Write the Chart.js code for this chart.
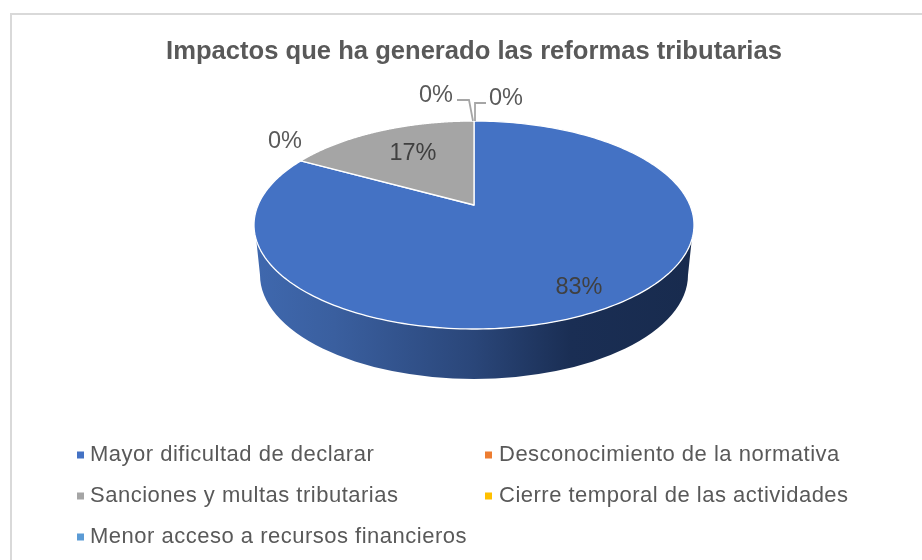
<!DOCTYPE html>
<html><head><meta charset="utf-8">
<style>html,body{margin:0;padding:0;background:#fff;overflow:hidden}canvas{display:block}</style>
<script src="https://cdn.jsdelivr.net/npm/chart.js@4"></script></head>
<body><canvas id="c" width="922" height="560"></canvas>
<script>
const titleText = 'Impactos que ha generado las reformas tributarias';
const categories = ['Mayor dificultad de declarar','Desconocimiento de la normativa','Sanciones y multas tributarias','Cierre temporal de las actividades','Menor acceso a recursos financieros'];
const seriesValues = [83,0,17,0,0];
const seriesColors = ['#4472C4','#ED7D31','#A5A5A5','#FFC000','#5B9BD5'];
const FONT = '"Liberation Sans", Arial, sans-serif';

// perspective of the pie's top face
const P = {cx:474, vy:205, A:100.15, C:215.9, a:-0.1923};
const project = ang => {
  const u = Math.cos(ang), v = Math.sin(ang), d = 1 + P.a*v;
  return [P.cx + P.C*u/d, P.vy + P.A*v/d];
};
const labelPos = [[579,288],[285,142],[413,154],[436,96],[506,99]];

const pie3d = {
  id:'pie3d',
  beforeDraw(chart){
    const c = chart.ctx;
    c.save();
    c.fillStyle='#fff'; c.fillRect(0,0,chart.width,chart.height);
    c.strokeStyle='#d9d9d9'; c.lineWidth=2;
    c.beginPath(); c.moveTo(11,560); c.lineTo(11,14); c.lineTo(922,14); c.stroke();
    c.restore();
  },
  beforeDatasetDraw(chart,args){
    const c = chart.ctx, meta = args.meta;
    c.save();
    // side wall
    const g = c.createLinearGradient(255,0,693,0);
    [[0,'#3F68AE'],[0.18,'#3A5F9F'],[0.5,'#2A4679'],[0.72,'#1A2E54'],[1,'#182B4E']].forEach(s=>g.addColorStop(s[0],s[1]));
    c.beginPath();
    const topCy=225, topRx=220, topRy=104, botCy=275, botRx=214, botRy=104;
    const t0=Math.asin(15/topRy);
    c.ellipse(474,topCy,topRx,topRy,0,t0,Math.PI-t0,false);
    c.lineTo(474-botRx,botCy);
    c.ellipse(474,botCy,botRx,botRy,0,Math.PI,0,true);
    c.closePath();
    c.fillStyle=g; c.fill();
    // top face, angles come from the library's arc elements
    meta.data.forEach((arc,i)=>{
      const p = arc.getProps(['startAngle','endAngle'],true);
      if (p.endAngle-p.startAngle<1e-6) return;
      c.beginPath();
      const n=240;
      c.moveTo(P.cx,P.vy);
      for(let k=0;k<=n;k++){
        const q=project(p.startAngle+(p.endAngle-p.startAngle)*k/n);
        c.lineTo(q[0],q[1]);
      }
      c.closePath();
      c.fillStyle=seriesColors[i]; c.fill();
      c.strokeStyle='#fff'; c.lineWidth=1.3; c.lineJoin='round'; c.stroke();
    });
    // leader lines
    c.strokeStyle='#A6A6A6'; c.lineWidth=1.8; c.lineJoin='miter';
    c.beginPath(); c.moveTo(457,100); c.lineTo(469,100); c.lineTo(473,121); c.stroke();
    c.beginPath(); c.moveTo(486,103); c.lineTo(475,103); c.lineTo(475,121); c.stroke();
    // labels
    c.font='23.5px '+FONT; c.textAlign='center'; c.textBaseline='middle';
    seriesValues.forEach((v,i)=>{
      c.fillStyle = i===0||i===2 ? '#404040' : '#595959';
      c.fillText(v+'%',labelPos[i][0],labelPos[i][1]);
    });
    // legend
    const lx=[77,485], tx=[90,499], ly=[455,496,537];
    c.font='22px '+FONT; c.textAlign='left'; c.letterSpacing='0.5px';
    categories.forEach((t,i)=>{
      const col=i%2,row=Math.floor(i/2);
      c.fillStyle=seriesColors[i];
      c.fillRect(lx[col],ly[row]-3.5,7,7);
      c.fillStyle='#595959';
      c.fillText(t,tx[col],ly[row]);
    });
    c.letterSpacing='0px';
    c.restore();
    return false;
  }
};

new Chart(document.getElementById('c'),{
  type:'pie',
  data:{labels:categories,datasets:[{data:seriesValues,backgroundColor:seriesColors,borderColor:'#fff'}]},
  plugins:[pie3d],
  options:{
    responsive:false,animation:false,
    layout:{padding:{top:37,left:26,right:0,bottom:0}},
    plugins:{
      legend:{display:false},tooltip:{enabled:false},
      title:{display:true,text:titleText,color:'#595959',font:{family:FONT,size:25.6,weight:'bold'},padding:{top:0,bottom:10}}
    }
  }
});
</script></body></html>
